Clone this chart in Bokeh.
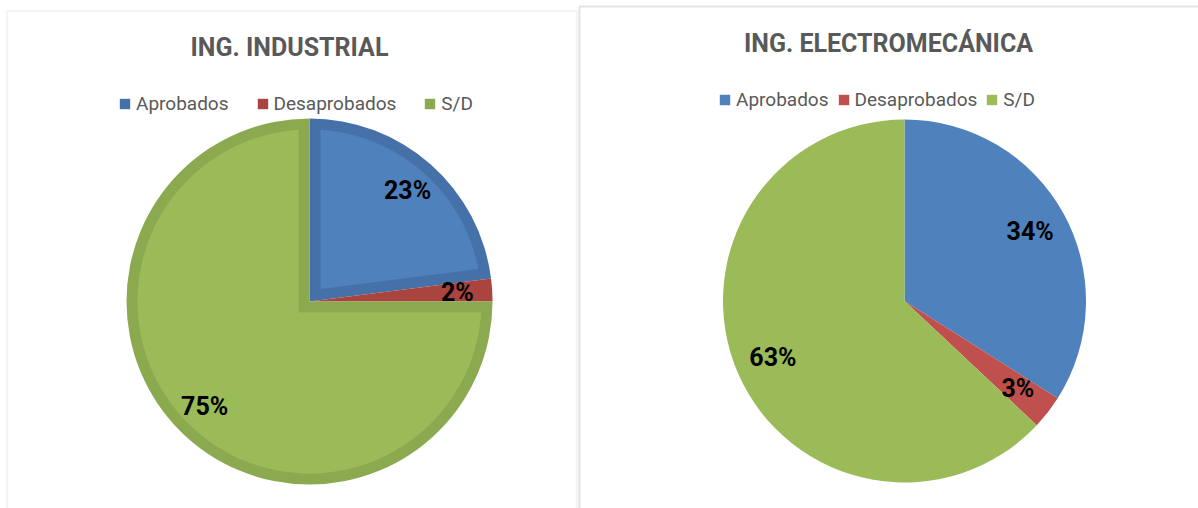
import math
from bokeh.plotting import figure
from bokeh.models import Range1d, ColumnDataSource, Legend, LegendItem, Label, BoxAnnotation
from bokeh.core.properties import value
from bokeh.embed import file_html
from bokeh.resources import INLINE

# ---- data ----
categories = ["Aprobados", "Desaprobados", "S/D"]
industrial = [23, 2, 75]
electromecanica = [34, 3, 63]
titles = ["ING. INDUSTRIAL", "ING. ELECTROMECÁNICA"]

# ---- style ----
colors = ["#4F81BD", "#C0504D", "#9BBB59"]
dark_colors = ["#4571A8", "#A9443F", "#8BAA50"]
FONT = "Roboto"
GRAY = "#595959"

W, H = 1198, 508


def py(y):
    # page pixel y -> data y
    return H - y


p = figure(width=W, height=H, x_range=Range1d(0, W), y_range=Range1d(0, H),
           output_backend="svg", toolbar_location=None, min_border=0,
           outline_line_color=None)
p.axis.visible = False
p.grid.visible = False
p.background_fill_color = "white"
p.border_fill_color = "white"

# panels
p.add_layout(BoxAnnotation(left=6.5, right=576.5, top=py(10.5), bottom=-50,
                           fill_alpha=0, line_color="#D9D9D9", line_width=2.5, level="underlay"))
p.add_layout(BoxAnnotation(left=579, right=1300, top=py(6), bottom=-50,
                           fill_alpha=0, line_color="#A0A0A0", line_width=2, level="underlay"))


def slice_angles(vals):
    total = float(sum(vals))
    cum = 0.0
    out = []
    for v in vals:
        a0 = 90 - 360 * cum / total
        cum += v
        a1 = 90 - 360 * cum / total
        out.append((math.radians(a1), math.radians(a0)))
    return out


def draw_pie(vals, cx, cy, R, label_frac, bevel, leg_loc, leg_spacing, title, title_x, title_y):
    ang = slice_angles(vals)
    total = float(sum(vals))
    src = ColumnDataSource(dict(
        start=[a[0] for a in ang], end=[a[1] for a in ang],
        color=colors, dark=dark_colors, cat=categories,
    ))
    r = p.wedge(x=cx, y=cy, radius=R, start_angle="start", end_angle="end",
                direction="anticlock", fill_color="dark" if bevel else "color",
                line_color=None, source=src)
    if bevel:
        d = bevel
        rr = R - d
        xs, ys, cs = [], [], []
        for (a1, a2), c in zip(ang, colors):
            w = a2 - a1
            h = w / 2
            b = a1 + h
            phi = math.asin(d / rr)
            s, e = a1 + phi, a2 - phi
            if e <= s:
                continue
            k = d / math.sin(h)
            px_, py_ = [cx + k * math.cos(b)], [cy + k * math.sin(b)]
            n = max(4, int(math.degrees(e - s) / 2))
            for i in range(n + 1):
                t = s + (e - s) * i / n
                px_.append(cx + rr * math.cos(t))
                py_.append(cy + rr * math.sin(t))
            xs.append(px_)
            ys.append(py_)
            cs.append(c)
        p.patches(xs=xs, ys=ys, fill_color=cs, line_color=None)
    # percentage labels
    mids = [(a[0] + a[1]) / 2 for a in ang]
    lab = ColumnDataSource(dict(
        x=[cx + label_frac * R * math.cos(m) for m in mids],
        y=[cy + label_frac * R * math.sin(m) for m in mids],
        t=["%d%%" % round(100 * v / total) for v in vals],
    ))
    p.text(x="x", y="y", text="t", source=lab, text_font=value(FONT), text_font_style="bold",
           text_font_size="25px", text_color="black", text_align="center", text_baseline="middle")
    # legend
    items = [LegendItem(label=c, renderers=[r], index=i) for i, c in enumerate(categories)]
    leg = Legend(items=items, orientation="horizontal", location=leg_loc,
                 glyph_width=13, glyph_height=13, label_standoff=5, spacing=leg_spacing,
                 padding=0, margin=0, border_line_alpha=0, background_fill_alpha=0,
                 label_text_font=FONT, label_text_font_size="19px", label_text_color=GRAY)
    p.add_layout(leg)
    p.add_layout(Label(x=title_x, y=title_y, text=title, text_font=FONT, text_font_style="bold",
                       text_font_size="25px", text_color=GRAY, text_align="center",
                       text_baseline="middle"))


draw_pie(industrial, 309, py(301), 183, 0.81, 11, (118, 393), 27, titles[0], 289, py(47))
draw_pie(electromecanica, 904, py(300.5), 181.5, 0.79, 0, (718, 397), 8, titles[1], 888, py(43))

open("out.html", "w").write(file_html(p, INLINE))
